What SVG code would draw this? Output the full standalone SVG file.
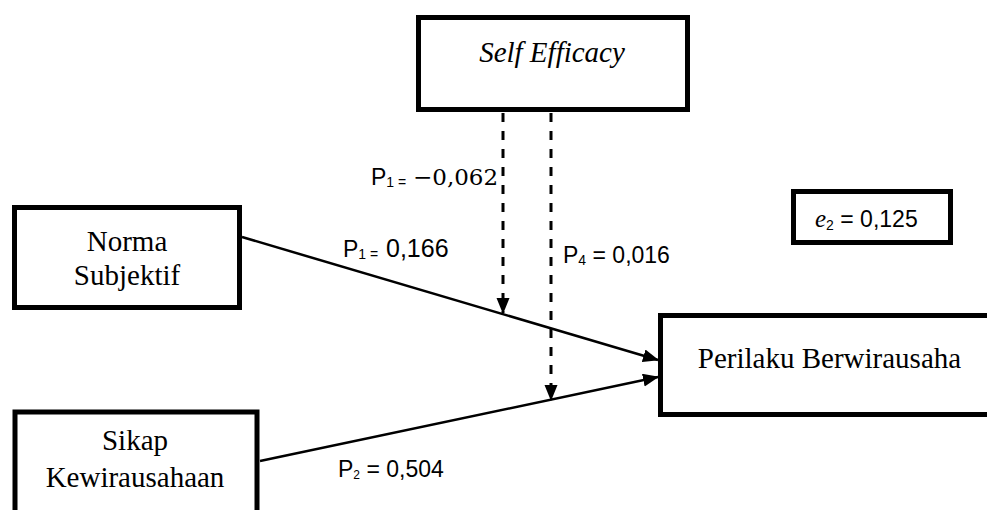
<svg xmlns="http://www.w3.org/2000/svg" width="987" height="510" viewBox="0 0 987 510">
<style>
.box{fill:#fff;stroke:#000;stroke-width:5}
.t{font-family:"Liberation Serif","Times New Roman",serif;font-size:29px;fill:#000;text-anchor:middle}
.lbl{font-family:"Liberation Sans",Arial,sans-serif;font-size:23px;fill:#000}
.sub{font-size:14px}
.ln{stroke:#000;stroke-width:2.5;fill:none}
.dash{stroke-width:3;stroke-dasharray:9 9}
</style>
<defs>
<marker id="ah" markerUnits="userSpaceOnUse" markerWidth="16" markerHeight="14" refX="15" refY="6.5" orient="auto">
<path d="M0,0 L16,6.5 L0,13 z" fill="#000"/>
</marker>
</defs>
<g id="connectors">
<line class="ln" x1="242" y1="237" x2="658" y2="360" marker-end="url(#ah)"/>
<line class="ln" x1="260" y1="461" x2="658" y2="377" marker-end="url(#ah)"/>
<line class="ln dash" x1="503" y1="113" x2="503" y2="313" marker-end="url(#ah)"/>
<line class="ln dash" x1="551" y1="113" x2="551" y2="400" marker-end="url(#ah)"/>
</g>
<g id="self-efficacy">
<rect class="box" x="418.5" y="17.5" width="269" height="92"/>
<text class="t" x="552" y="62" font-style="italic">Self Efficacy</text>
</g>
<g id="norma-subjektif">
<rect class="box" x="14.5" y="207.5" width="225" height="100"/>
<text class="t" x="127" y="251">Norma</text>
<text class="t" x="127" y="285">Subjektif</text>
</g>
<g id="sikap-kewirausahaan">
<rect class="box" x="15" y="412" width="242" height="110" stroke-width="6"/>
<text class="t" x="135" y="450">Sikap</text>
<text class="t" x="135" y="487">Kewirausahaan</text>
</g>
<g id="perilaku-berwirausaha">
<rect class="box" x="660.5" y="315.5" width="338" height="99"/>
<text class="t" x="829.5" y="368">Perilaku Berwirausaha</text>
</g>
<g id="e2">
<rect class="box" x="793.5" y="191.5" width="157" height="51"/>
<text class="lbl" x="815" y="227"><tspan font-family="Liberation Serif,serif" font-style="italic" font-size="25">e</tspan><tspan class="sub" dy="3">2</tspan><tspan dy="-3"> = 0,125</tspan></text>
</g>
<g id="labels">
<text class="lbl" x="371" y="185">P<tspan class="sub" dy="2">1 =</tspan><tspan x="413" dy="-2" font-family="DejaVu Serif,serif" font-size="23">−0,062</tspan></text>
<text class="lbl" x="343" y="257">P<tspan class="sub" dy="2">1 =</tspan><tspan x="386" dy="-2" font-size="25">0,166</tspan></text>
<text class="lbl" x="563" y="263">P<tspan class="sub" dy="2">4</tspan><tspan dy="-2"> = 0,016</tspan></text>
<text class="lbl" x="338" y="477" font-size="19">P<tspan font-size="12" dy="2">2</tspan><tspan dy="-2"> = 0,504</tspan></text>
</g>
</svg>
